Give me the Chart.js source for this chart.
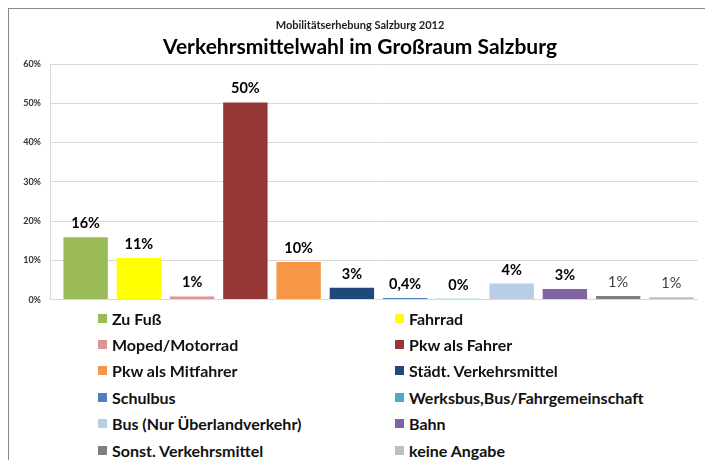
<!DOCTYPE html>
<html lang="de">
<head>
<meta charset="utf-8">
<title>Verkehrsmittelwahl im Großraum Salzburg</title>
<script src="https://cdn.jsdelivr.net/npm/chart.js@4.4.1/dist/chart.umd.min.js"></script>
<style>
  html, body { margin: 0; padding: 0; background: #fff; }
  #wrap { position: relative; width: 705px; height: 460px; overflow: hidden; font-family: Lato, sans-serif; }
  #frame { position: absolute; left: 8px; top: 8px; right: -2px; bottom: -2px; border-top: 1px solid #8a8a8a; border-left: 1px solid #8a8a8a; }
  #chart { position: absolute; left: 0; top: 0; }
  #legend { position: absolute; left: 0; top: 0; width: 705px; }
  .item { position: absolute; display: flex; align-items: center; height: 20px; font-size: 16px; font-weight: bold; color: #111; white-space: nowrap; }
  .item i { display: inline-block; width: 9px; height: 9px; margin-right: 5px; }
</style>
</head>
<body>
<div id="wrap">
  <div id="frame"></div>
  <canvas id="chart" width="705" height="314"></canvas>
  <div id="legend"></div>
</div>
<script>
const categories = [
  'Zu Fuß', 'Fahrrad', 'Moped/Motorrad', 'Pkw als Fahrer',
  'Pkw als Mitfahrer', 'Städt. Verkehrsmittel', 'Schulbus', 'Werksbus,Bus/Fahrgemeinschaft',
  'Bus (Nur Überlandverkehr)', 'Bahn', 'Sonst. Verkehrsmittel', 'keine Angabe',
];
// share in percent
const shares = [15.9, 10.6, 0.8, 50.2, 9.6, 3.0, 0.4, 0.2, 4.1, 2.7, 0.9, 0.6];
// labels as printed above the bars
const valueLabels = ['16%', '11%', '1%', '50%', '10%', '3%', '0,4%', '0%', '4%', '3%', '1%', '1%'];
const barColors = [
  '#9bbb59', '#ffff00', '#d99694', '#953735',
  '#f79646', '#1f497d', '#4f81bd', '#4bacc6',
  '#b9cde5', '#8064a2', '#7f7f7f', '#bfbfbf',
];
const yMax = 60;
const yStep = 10;

const plainLabels = [10, 11];

const leftAxisLine = {
  id: 'leftAxisLine',
  beforeDatasetsDraw(chart) {
    const { ctx, scales: { y } } = chart;
    const x = Math.round(chart.chartArea.left - 9) + 0.5;
    ctx.save();
    ctx.strokeStyle = '#d9d9d9';
    ctx.lineWidth = 1;
    ctx.beginPath();
    ctx.moveTo(x, y.top);
    ctx.lineTo(x, y.bottom);
    ctx.stroke();
    ctx.restore();
  },
};

const barLabels = {
  id: 'barLabels',
  afterDatasetsDraw(chart) {
    const { ctx } = chart;
    const meta = chart.getDatasetMeta(0);
    ctx.save();
    ctx.textAlign = 'center';
    ctx.textBaseline = 'alphabetic';
    meta.data.forEach((bar, i) => {
      const plain = plainLabels.includes(i);
      ctx.font = `${plain ? 'normal' : 'bold'} 14.5px Lato`;
      ctx.fillStyle = plain ? '#404040' : '#000';
      ctx.fillText(valueLabels[i], bar.x, bar.y - 9);
    });
    ctx.restore();
  },
};

new Chart(document.getElementById('chart'), {
  type: 'bar',
  data: {
    labels: categories,
    datasets: [{
      data: shares,
      backgroundColor: barColors,
      categoryPercentage: 1,
      barPercentage: 0.834,
    }],
  },
  options: {
    responsive: false,
    animation: false,
    layout: { padding: { left: 22, right: 7, top: 0, bottom: 7 } },
    plugins: {
      legend: { display: false },
      tooltip: { enabled: false },
      title: {
        display: true,
        text: 'Mobilitätserhebung Salzburg 2012',
        color: '#222',
        font: { family: 'Lato', size: 11, weight: 'bold' },
        padding: { top: 19, bottom: 2 },
      },
      subtitle: {
        display: true,
        text: 'Verkehrsmittelwahl im Großraum Salzburg',
        color: '#000',
        font: { family: 'Lato', size: 21, weight: 'bold' },
        padding: { top: 0, bottom: 4.6 },
      },
    },
    scales: {
      x: { display: false },
      y: {
        min: 0,
        max: yMax,
        afterFit(scale) { scale.width = 37; },
        border: { display: false },
        grid: { color: '#d9d9d9', tickLength: 9, drawTicks: true },
        ticks: {
          stepSize: yStep,
          padding: 9,
          color: '#333',
          font: { family: 'Lato', size: 9, weight: 'bold' },
          callback: value => value + '%',
        },
      },
    },
  },
  plugins: [leftAxisLine, barLabels],
});

// two-column legend below the plot
const legend = document.getElementById('legend');
const columnLeft = [98, 395];
categories.forEach((name, i) => {
  const row = Math.floor(i / 2);
  const item = document.createElement('div');
  item.className = 'item';
  item.style.left = columnLeft[i % 2] + 'px';
  item.style.top = (308 + row * 26.4) + 'px';
  item.innerHTML = `<i style="background:${barColors[i]}"></i>${name}`;
  legend.appendChild(item);
});
</script>
</body>
</html>
